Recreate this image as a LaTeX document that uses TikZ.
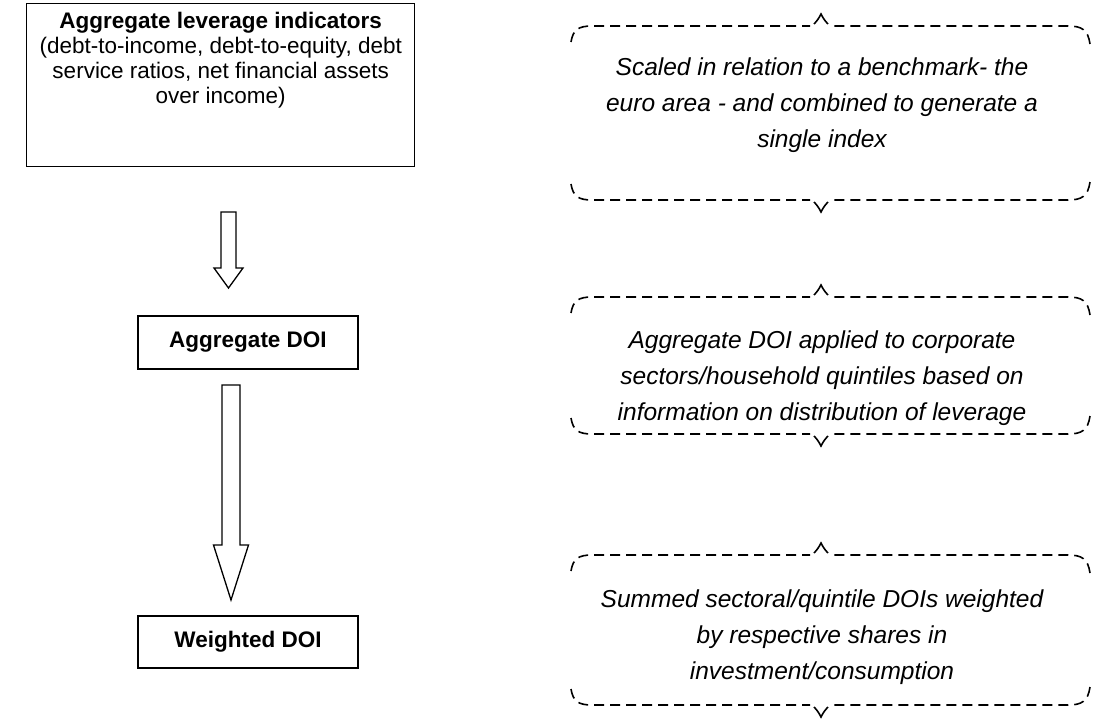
\documentclass[tikz,border=0pt]{standalone}
\usepackage{fontspec}
\setmainfont{Liberation Sans}
\usetikzlibrary{calc}
\newcommand\bracetopat[1]{%
 \draw[bracepath] (571,#1+16) .. controls (573,#1+4) and (578,#1) .. (592,#1) -- (810,#1);
 \draw[bracetip] (814,#1-2) .. controls (817,#1-5) and (819,#1-8) .. (821,#1-12) .. controls (823,#1-8) and (825,#1-5) .. (828,#1-2);
 \draw[bracepath] (1090,#1+18) .. controls (1088,#1+4) and (1082,#1) .. (1068,#1) -- (832,#1);}
\newcommand\bracebotat[1]{%
 \draw[bracepath] (571,#1-16) .. controls (573,#1-4) and (578,#1) .. (592,#1) -- (810,#1);
 \draw[bracetip] (814,#1+2) .. controls (817,#1+5) and (819,#1+8) .. (821,#1+12) .. controls (823,#1+8) and (825,#1+5) .. (828,#1+2);
 \draw[bracepath] (1090,#1-18) .. controls (1088,#1-4) and (1082,#1) .. (1068,#1) -- (832,#1);}
\begin{document}
\begin{tikzpicture}[x=1pt,y=-1pt,
  box/.style={draw, line width=1.4pt, rectangle, inner sep=0pt},
  bracepath/.style={draw, line width=1.6pt, dash pattern=on 10pt off 6pt},
  bracetip/.style={draw, line width=1.6pt},
  note/.style={font=\fontsize{24.5}{36}\selectfont\itshape, align=center},
  boxtext/.style={font=\fontsize{22.5}{25}\selectfont, align=center},
  blockarrow/.style={draw, line width=1.3pt, fill=white, line join=miter}]
\useasboundingbox (0,0) rectangle (1093,726);
% left boxes
\node[box, minimum width=388pt, minimum height=163pt, anchor=north west] (b1) at (26,3) {};
\node[boxtext, anchor=north] (t1) at ($(b1.north)+(0,6)$) {\textbf{Aggregate leverage indicators}\\(debt-to-income, debt-to-equity, debt\\service ratios, net financial assets\\over income)};
\node[box, minimum width=220pt, minimum height=53pt, font=\fontsize{22.5}{25}\selectfont\bfseries] (b2) at (248,342.5) {Aggregate DOI};
\node[box, minimum width=220pt, minimum height=52pt, font=\fontsize{22.5}{25}\selectfont\bfseries] (b3) at (248,642) {Weighted DOI};
% block arrows
\coordinate (a1s) at (228.5,212);
\coordinate (a1e) at (228.5,288);
\draw[blockarrow] ($(a1s)+(-7.5,0)$) -- ($(a1s)+(7.5,0)$) -- ($(a1e)+(7.5,-20)$) -- ($(a1e)+(14.5,-20)$) -- (a1e) -- ($(a1e)+(-14.5,-20)$) -- ($(a1e)+(-7.5,-20)$) -- cycle;
\coordinate (a2s) at (231,385);
\coordinate (a2e) at (231,600);
\draw[blockarrow] ($(a2s)+(-9,0)$) -- ($(a2s)+(9,0)$) -- ($(a2e)+(9,-55)$) -- ($(a2e)+(17.5,-55)$) -- (a2e) -- ($(a2e)+(-17.5,-55)$) -- ($(a2e)+(-9,-55)$) -- cycle;
% braces
\bracetopat{26}
\bracebotat{200}
\bracetopat{297}
\bracebotat{434}
\bracetopat{555}
\bracebotat{705}
% notes
\node[note] (n1) at (822,105) {Scaled in relation to a benchmark- the\\euro area - and combined to generate a\\single index};
\node[note] (n2) at (822,378) {Aggregate DOI applied to corporate\\sectors/household quintiles based on\\information on distribution of leverage};
\node[note] (n3) at (822,637) {Summed sectoral/quintile DOIs weighted\\by respective shares in\\investment/consumption};
\end{tikzpicture}
\end{document}
